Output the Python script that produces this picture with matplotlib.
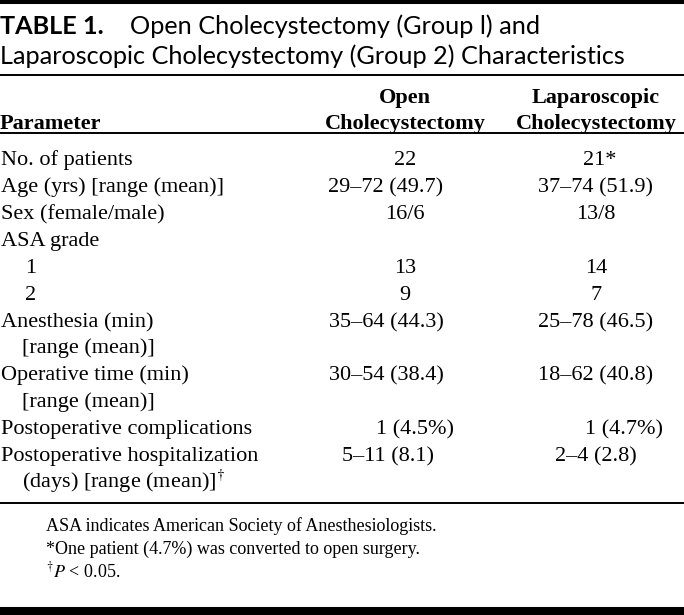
import matplotlib
matplotlib.use("Agg")
import matplotlib.pyplot as plt

plt.rcParams['mathtext.fontset'] = 'stix'

# ---------- table content ----------
title_lead = "TABLE 1."
title_line1 = "Open Cholecystectomy (Group l) and"
title_line2 = "Laparoscopic Cholecystectomy (Group 2) Characteristics"

col_heads = [["Open", "Cholecystectomy"], ["Laparoscopic", "Cholecystectomy"]]
param_head = "Parameter"

row_labels = [
    ["No. of patients"],
    ["Age (yrs) [range (mean)]"],
    ["Sex (female/male)"],
    ["ASA grade"],
    ["1"],
    ["2"],
    ["Anesthesia (min)", "[range (mean)]"],
    ["Operative time (min)", "[range (mean)]"],
    ["Postoperative complications"],
    ["Postoperative hospitalization", "(days) [range (mean)]$^{\\dagger}$"],
]
open_vals = ["22", "29\u201372 (49.7)", "16/6", "", "13", "9",
             "35\u201364 (44.3)", "30\u201354 (38.4)", "1 (4.5%)", "5\u201311 (8.1)"]
lap_vals = ["21*", "37\u201374 (51.9)", "13/8", "", "14", "7",
            "25\u201378 (46.5)", "18\u201362 (40.8)", "1 (4.7%)", "2\u20134 (2.8)"]

footnotes = [
    "ASA indicates American Society of Anesthesiologists.",
    "*One patient (4.7%) was converted to open surgery.",
    "$^{\\dagger}\\mathit{P}$ < 0.05.",
]

# ---------- layout (pixels) ----------
W, H = 684, 615
row_base = [165, 192, 219, 246, 273, 300, 327, 380, 434, 461]
sub_gap = 26.5
indent = [0, 0, 0, 0, 24, 24, 0, 0, 0, 0]
col_x = [405, 596]
val_shift = [[0, -19, 0, 0, 0, 0, -19, -19, 10, -17], [4, 0, 0, 0, 0, 0, 0, 0, 28, 0]]
foot_base = [531, 554, 577]

serif = 'Liberation Serif'
sans = 'Lato'
body_fs = 16
head_fs = 16
foot_fs = 13
title_fs = 18.2

fig = plt.figure(figsize=(W / 100, H / 100), dpi=100)
ax = fig.add_axes([0, 0, 1, 1])
ax.set_xlim(0, W)
ax.set_ylim(H, 0)
ax.axis('off')

# rules
ax.axhline(2, color='black', lw=2.9)
ax.axhline(75, color='black', lw=1.4)
ax.axhline(133, color='black', lw=1.4)
ax.axhline(503, color='black', lw=1.4)
ax.axhline(611, color='black', lw=5.8)

# title
ax.text(0, 34, title_lead, fontfamily=sans, fontweight='bold', fontsize=title_fs, va='baseline')
ax.text(130, 34, title_line1, fontfamily=sans, fontsize=title_fs, va='baseline')
ax.text(0, 64, title_line2, fontfamily=sans, fontsize=title_fs, va='baseline')

# header
ax.text(0, 129, param_head, fontfamily=serif, fontweight='bold', fontsize=head_fs, va='baseline')
for x, lines in zip(col_x, col_heads):
    ax.text(x, 103, lines[0], fontfamily=serif, fontweight='bold', fontsize=head_fs,
            va='baseline', ha='center')
    ax.text(x, 129, lines[1], fontfamily=serif, fontweight='bold', fontsize=head_fs,
            va='baseline', ha='center')

# body
for i, (lab, v1, v2) in enumerate(zip(row_labels, open_vals, lap_vals)):
    y = row_base[i]
    for j, line in enumerate(lab):
        x = indent[i] + (22 if j > 0 else 1)
        ax.text(x, y + j * sub_gap, line, fontfamily=serif, fontsize=body_fs, va='baseline')
    ax.text(col_x[0] + val_shift[0][i], y, v1, fontfamily=serif, fontsize=body_fs,
            va='baseline', ha='center')
    ax.text(col_x[1] + val_shift[1][i], y, v2, fontfamily=serif, fontsize=body_fs,
            va='baseline', ha='center')

# footnotes
for y, f in zip(foot_base, footnotes):
    ax.text(46, y, f, fontfamily=serif, fontsize=foot_fs, va='baseline')

fig.savefig('out.png', dpi=100)
